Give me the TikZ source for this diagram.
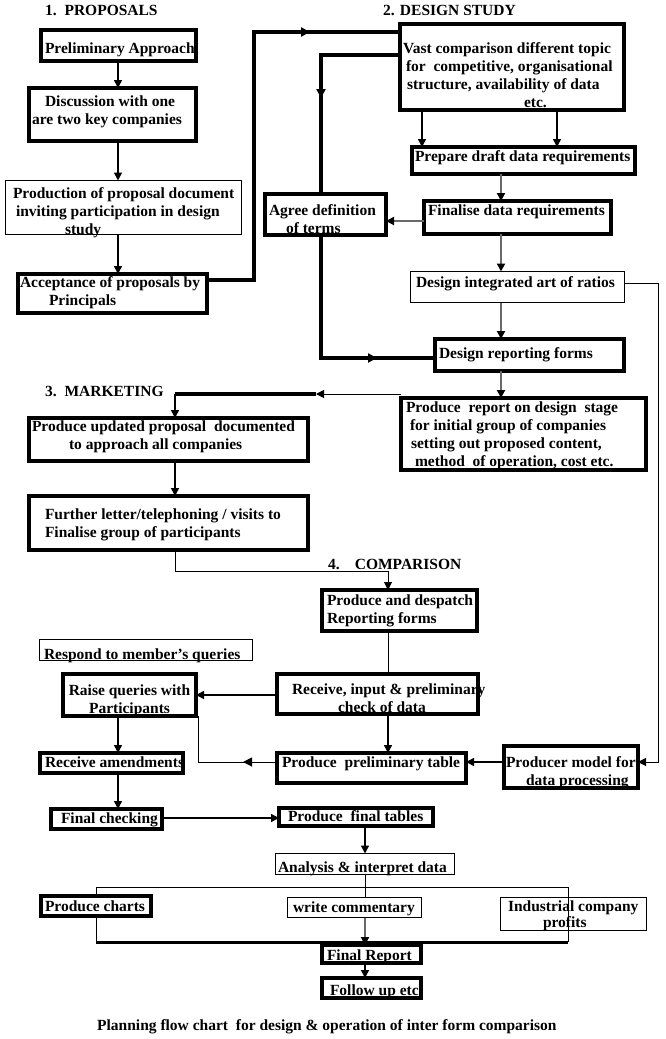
\documentclass[tikz,border=0pt]{standalone}
\usepackage{fontspec}
\setmainfont{Liberation Serif}
\usetikzlibrary{arrows.meta,decorations.markings,calc}
\definecolor{lgray}{RGB}{105,105,105}
\newcommand{\TL}[3]{\raisebox{-#1pt}[\height][\depth]{\makebox[#2pt][l]{\begin{tabular}{@{}l@{}}#3\end{tabular}}}}
\newcommand{\TC}[2]{\raisebox{-#1pt}[\height][\depth]{\begin{tabular}{@{}c@{}}#2\end{tabular}}}
\tikzset{
  boxbase/.style={draw, inner sep=0pt, outer sep=0pt, font=\bfseries\fontsize{15.5}{18}\selectfont},
  thickbox/.style={boxbase, line width=4pt},
  thinbox/.style={boxbase, line width=1pt},
  conn/.style={line width=1.5pt},
  thinconn/.style={line width=1pt},
  heavy/.style={line width=3.5pt},
  grayconn/.style={line width=2pt, draw=lgray},
  arr/.style={-{Triangle[width=8pt,length=8pt]}},
  arrg/.style={-{Triangle[width=8pt,length=8pt,color=black]}},
  midarrow/.style={postaction={decorate}, decoration={markings, mark=at position #1 with {\arrow{Triangle[width=9pt,length=9pt]}}}},
  title/.style={anchor=base west, inner sep=0pt, font=\bfseries\fontsize{15.5}{18}\selectfont},
}
\begin{document}
\begin{tikzpicture}[x=1pt,y=-1pt]
\fill[white] (0,0) rectangle (666,1039);
\useasboundingbox (0,0) rectangle (666,1039);

% titles
\node[title] (t1) at (45,15) {1.\ \ PROPOSALS};
\node[title] (t2) at (383,15) {2. DESIGN STUDY};
\node[title] (t3) at (45,396) {3.\ \ MARKETING};
\node[title] (t4) at (328,569) {4.\hspace{15pt}COMPARISON};
\node[title] (cap) at (97,1030) {Planning flow chart\ \ for design \& operation of inter form comparison};

% section 1
\node[thickbox, minimum width=155pt, minimum height=31pt] (prelim) at (118.5,45.5) {\TL{4}{147}{Preliminary Approach}};
\node[thickbox, minimum width=167pt, minimum height=53pt] (discuss) at (112.5,114.5) {\TL{-3}{161}{\hspace*{13pt}Discussion with one\\are two key companies}};
\node[thinbox, minimum width=236pt, minimum height=54pt] (production) at (123.5,207.5) {\TL{5}{221}{Production of proposal document\\\hspace*{3pt}inviting participation in design\\\hspace*{52pt}study}};
\node[thickbox, minimum width=189pt, minimum height=39pt] (accept) at (112.5,293.5) {\TL{-1}{185}{Acceptance of proposals by\\\hspace*{29pt}Principals}};

% section 2
\node[thickbox, minimum width=224pt, minimum height=86pt] (vast) at (512,67) {\TL{10}{218}{Vast comparison different topic\\\hspace*{3pt}for\ \ competitive, organisational\\\hspace*{4pt}structure, availability of data\\\hspace*{121pt}etc.}};
\node[thickbox, minimum width=223pt, minimum height=27pt] (draft) at (523.5,160.5) {\TL{-3}{217}{Prepare draft data requirements}};
\node[thickbox, minimum width=187pt, minimum height=33pt] (finalise) at (517.5,217.5) {\TL{-6}{179}{Finalise data requirements}};
\node[thickbox, minimum width=121pt, minimum height=41pt] (agree) at (325.5,214.5) {\TL{6}{113}{Agree definition\\\hspace*{17pt}of terms}};
\node[thinbox, minimum width=214pt, minimum height=31pt] (integ) at (517.5,287) {\TL{-3.5}{203}{Design integrated art of ratios}};
\node[thickbox, minimum width=189pt, minimum height=32pt] (forms) at (529.5,355) {\TL{0}{181}{Design reporting forms}};
\node[thickbox, minimum width=245pt, minimum height=72pt] (report) at (523.5,434) {\TL{1.5}{235}{Produce\ \ report on design\ \ stage\\\hspace*{4pt}for initial group of companies\\\hspace*{5pt}setting out proposed content,\\\hspace*{9pt}method\ \ of operation, cost etc.}};

% section 3
\node[thickbox, minimum width=279pt, minimum height=43pt] (updated) at (168.5,439.5) {\TL{-2.5}{273}{Produce updated proposal\ \ documented\\\hspace*{37pt}to approach all companies}};
\node[thickbox, minimum width=279pt, minimum height=54pt] (further) at (168.5,523) {\TL{1.5}{247}{Further letter/telephoning / visits to\\Finalise group of participants}};

% section 4
\node[thickbox, minimum width=155pt, minimum height=41pt] (despatch) at (399.5,610.5) {\TL{0.5}{145}{Produce and despatch\\Reporting forms}};
\node[thickbox, minimum width=201pt, minimum height=40pt] (receive) at (377.5,694) {\TL{6}{171}{Receive, input \& preliminary\\\hspace*{46pt}check of data}};
\node[thickbox, minimum width=189pt, minimum height=30pt] (prelimtab) at (371.5,768) {\TL{-4.5}{179}{Produce\ \ preliminary table}};
\node[thickbox, minimum width=134pt, minimum height=42pt] (producer) at (571,767) {\TL{5.5}{130}{Producer model for\\\hspace*{20pt}data processing}};
\node[thinbox, minimum width=213pt, minimum height=21pt] (respond) at (146,650) {\TL{5.5}{204}{Respond to member’s queries}};
\node[thickbox, minimum width=133pt, minimum height=42pt] (raise) at (129.5,695) {\TC{5.5}{Raise queries with\\Participants}};
\node[thickbox, minimum width=143pt, minimum height=20pt] (amend) at (111.5,763) {\TL{0.5}{133}{Receive amendments}};
\node[thickbox, minimum width=111pt, minimum height=20pt] (finalcheck) at (106.5,819) {\TL{0.5}{91}{Final checking}};
\node[thickbox, minimum width=154pt, minimum height=16pt] (finaltab) at (356,817) {\TL{0.5}{136}{Produce\ \ final tables}};
\node[thinbox, minimum width=179pt, minimum height=21pt] (analysis) at (365,864) {\TL{4.5}{174}{Analysis \& interpret data}};
\node[thickbox, minimum width=110pt, minimum height=20pt] (charts) at (96,906) {\TL{1.5}{102}{Produce charts}};
\node[thinbox, minimum width=134pt, minimum height=20pt] (comment) at (354.5,907.5) {\TL{1}{123}{write commentary}};
\node[thinbox, minimum width=146pt, minimum height=33pt] (industrial) at (573.5,914) {\def\arraystretch{0.89}\TL{2.5}{131}{Industrial company\\\hspace*{35pt}profits}};
\node[thickbox, minimum width=99pt, minimum height=18pt] (finalrep) at (371.5,954) {\TL{2.5}{89}{Final Report}};
\node[thickbox, minimum width=99pt, minimum height=20pt] (followup) at (371.5,988) {\TL{3.5}{83}{Follow up etc}};

% helper coordinates
\coordinate (cA) at (118,0);
\coordinate (cB) at (422,0);
\coordinate (cC) at (557,0);
\coordinate (cD) at (501,0);
\coordinate (cE) at (365,0);
\coordinate (d1) at (254,280);
\coordinate (d2) at (254,32);
\coordinate (e1) at (321,55);
\coordinate (h1) at (0,221);
\coordinate (k1) at (321,358);
\coordinate (m1) at (316,394);
\coordinate (m2) at (175,394);
\coordinate (o1) at (175,571);
\coordinate (o2) at (388,571);
\coordinate (q1) at (0,695);
\coordinate (s1) at (658,283);
\coordinate (s2) at (658,762);
\coordinate (u1) at (198,762);
\coordinate (x1) at (0,818);
\coordinate (z1) at (96,887);
\coordinate (z2) at (568,887);
\coordinate (z3) at (568,942);
\coordinate (z4) at (96,942);

% connectors, section 1
\draw[conn,arr] (cA |- prelim.south) -- (cA |- discuss.north);
\draw[conn,arr] (cA |- discuss.south) -- (cA |- production.north);
\draw[conn,arr] (cA |- production.south) -- (cA |- accept.north);
\draw[heavy, midarrow=-90pt] (accept.east |- d1) -- (d1) -- (d2) -- (vast.west |- d2);

% section 2
\draw[heavy, midarrow=122pt] (vast.west |- e1) -- (e1) -- (e1 |- agree.north);
\draw[conn,arr] (cB |- vast.south) -- (cB |- draft.north);
\draw[conn,arr] (cC |- vast.south) -- (cC |- draft.north);
\draw[grayconn,arrg] (cD |- draft.south) -- (cD |- finalise.north);
\draw[grayconn,arrg] (finalise.west |- h1) -- (agree.east |- h1);
\draw[grayconn,arrg] (cD |- finalise.south) -- (cD |- integ.north);
\draw[grayconn,arrg] (cD |- integ.south) -- (cD |- forms.north);
\draw[heavy, midarrow=-58pt] (e1 |- agree.south) -- (k1) -- (forms.west |- k1);
\draw[grayconn,arrg] (cD |- forms.south) -- (cD |- report.north);

% section 3
\draw[thinconn,arr] (report.north west |- m1) -- (m1);
\draw[heavy] (m1) -- (m2);
\draw[conn,arr] (m2) -- (m2 |- updated.north);
\draw[conn,arr] (m2 |- updated.south) -- (m2 |- further.north);
\draw[thinconn,arr] (m2 |- further.south) -- (o1) -- (o2) -- (o2 |- despatch.north);

% section 4
\draw[thinconn] (o2 |- despatch.south) -- (o2 |- receive.north);
\draw[conn,arr] (receive.west |- q1) -- (raise.east |- q1);
\draw[conn,arr] (o2 |- receive.south) -- (o2 |- prelimtab.north);
\draw[thinconn,arr] (integ.east |- s1) -- (s1) -- (s2) -- (producer.east |- s2);
\draw[conn,arr] (producer.west |- s2) -- (prelimtab.east |- s2);
\draw[thinconn, midarrow=34pt] (prelimtab.west |- s2) -- (u1) -- (u1 |- raise.south);
\draw[conn,arr] (cA |- raise.south) -- (cA |- amend.north);
\draw[conn,arr] (cA |- amend.south) -- (cA |- finalcheck.north);
\draw[conn,arr] (finalcheck.east |- x1) -- (finaltab.west |- x1);
\draw[conn,arr] (cE |- finaltab.south) -- (cE |- analysis.north);
\draw[thinconn] (cE |- analysis.south) -- (cE |- comment.north);
\draw[thinconn] (z1 |- charts.north) -- (z1) -- (z2) -- (z3);
\draw[thinconn] (charts.south) -- (z4);
\draw[line width=3pt] (z4) -- (z3);
\draw[grayconn,arrg] (cE |- comment.south) -- (cE |- finalrep.north);
\draw[conn,arr] (cE |- finalrep.south) -- (cE |- followup.north);
\end{tikzpicture}
\end{document}
